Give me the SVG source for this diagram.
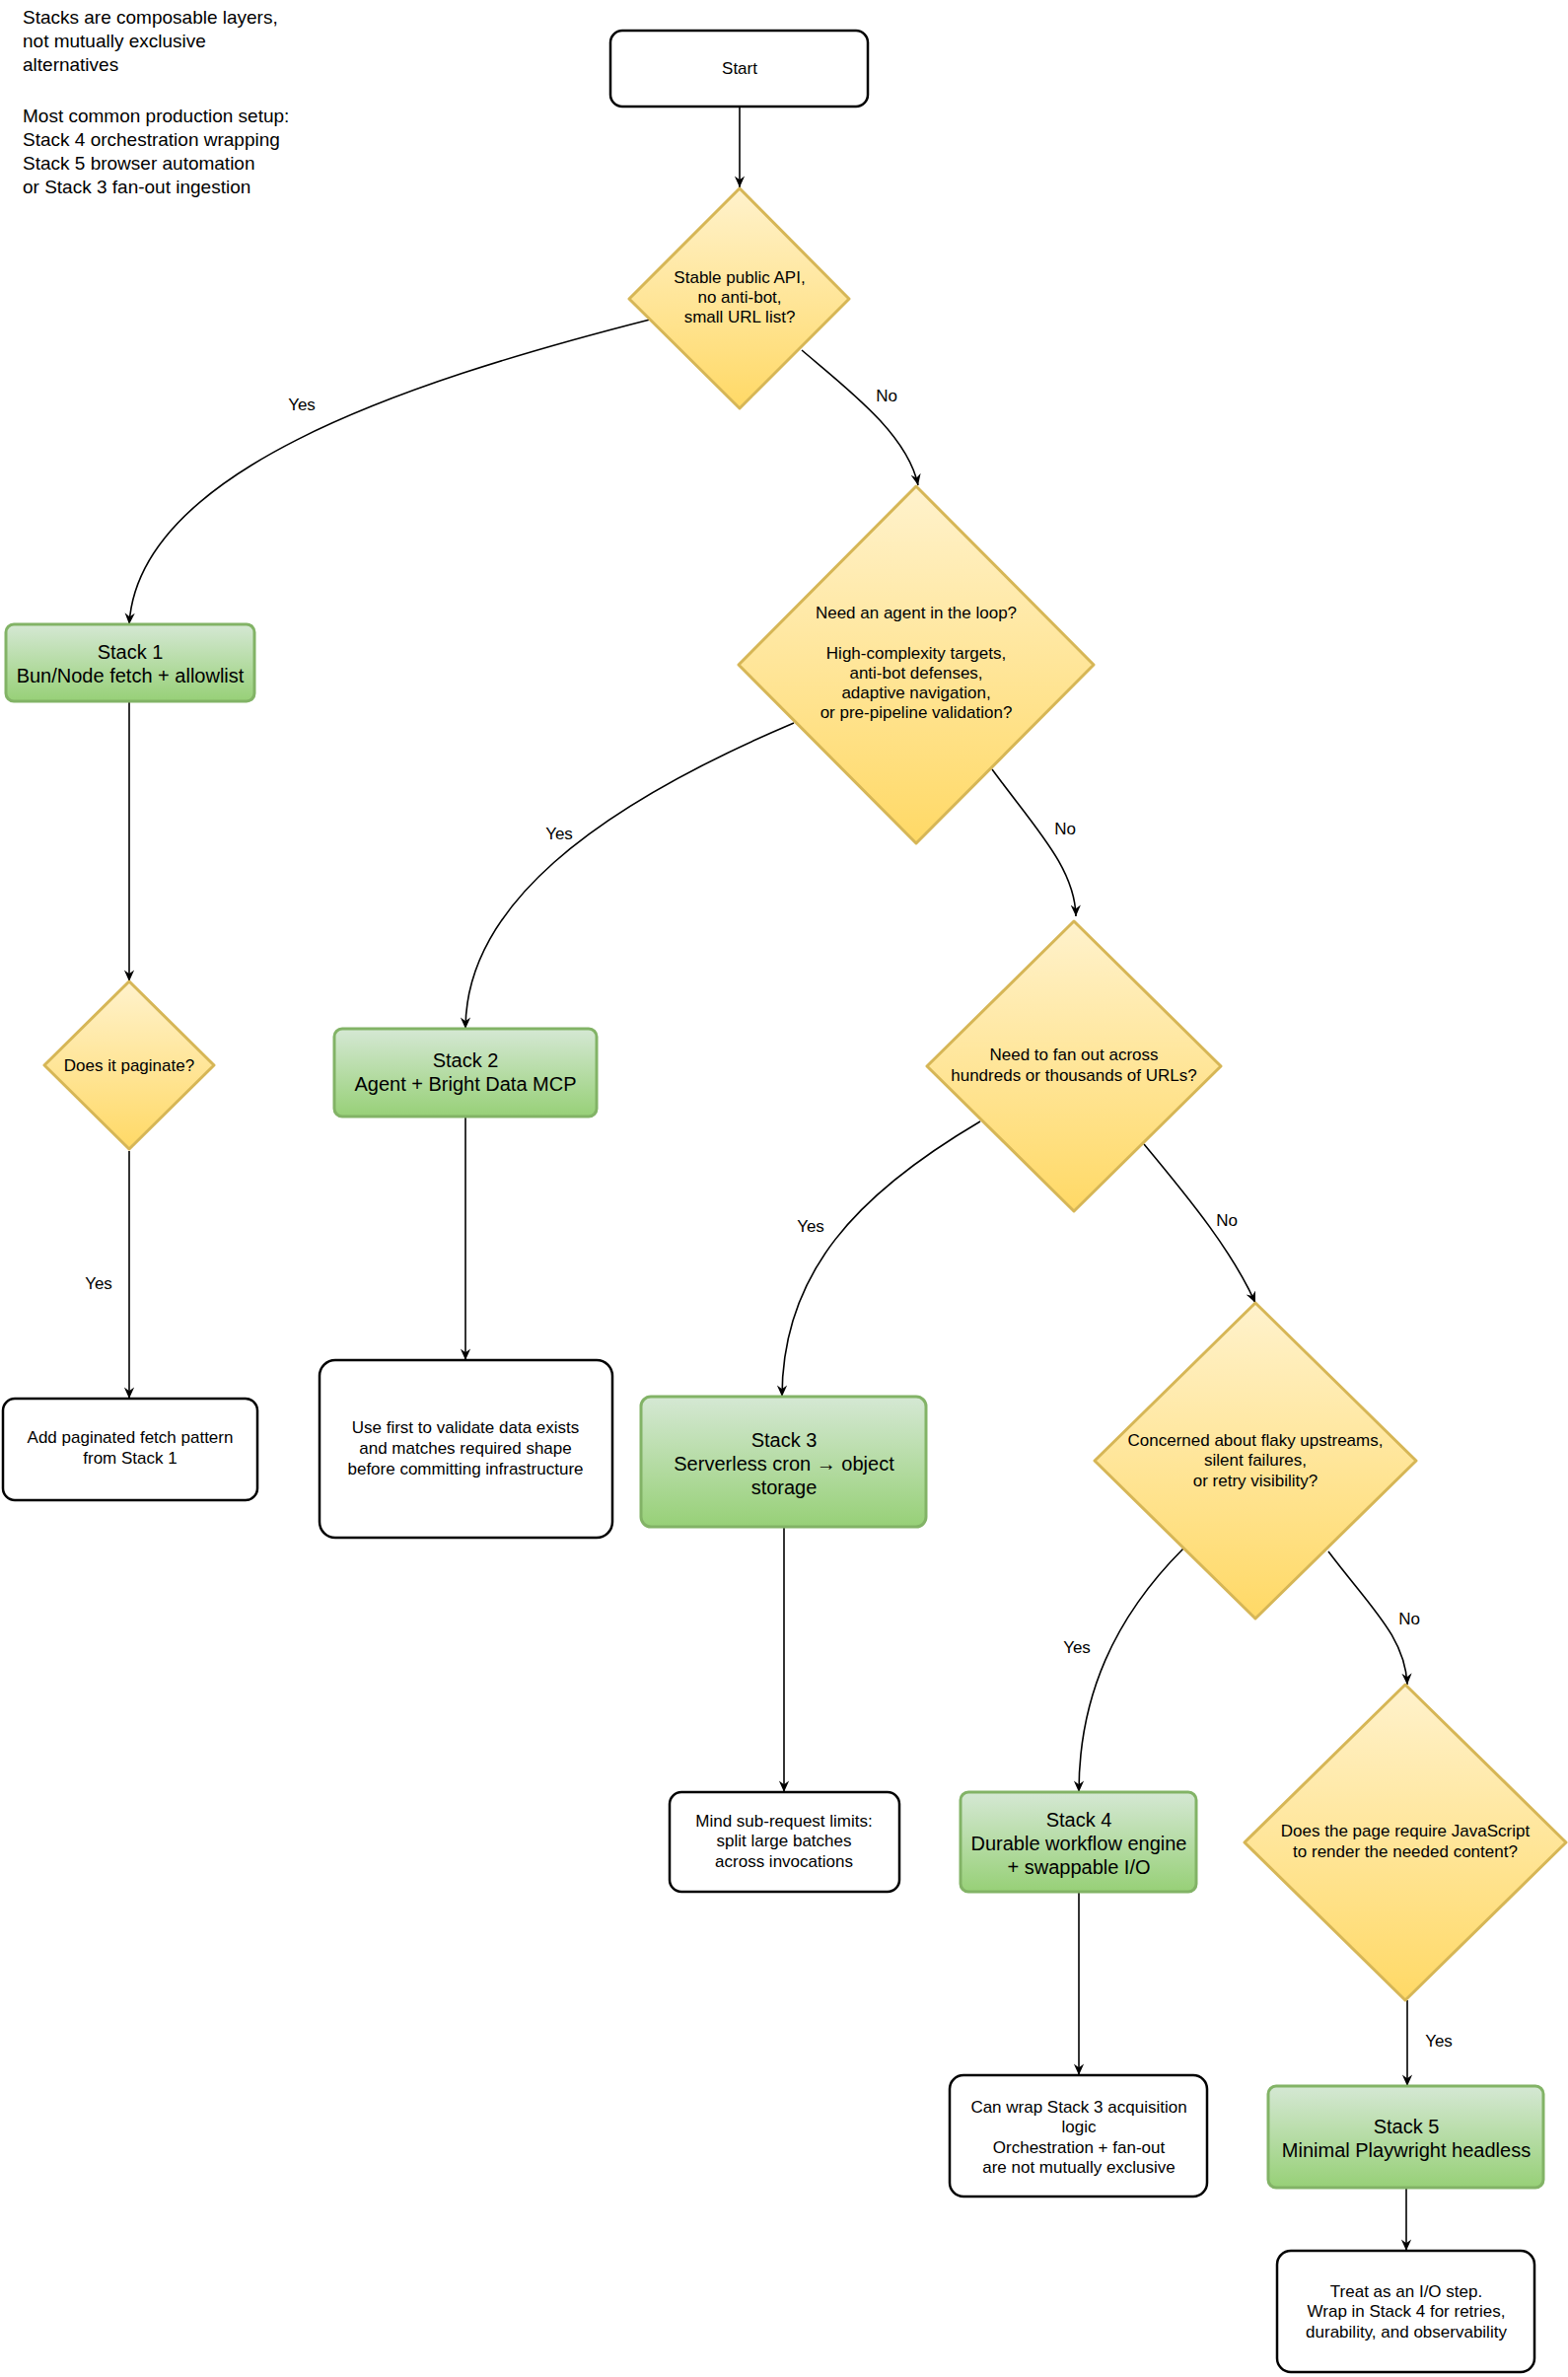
<svg xmlns="http://www.w3.org/2000/svg" width="1590" height="2410" viewBox="0 0 1590 2410">
<defs>
<linearGradient id="gy" x1="0" y1="0" x2="0" y2="1"><stop offset="0" stop-color="#fff2cc"/><stop offset="1" stop-color="#ffd966"/></linearGradient>
<linearGradient id="gg" x1="0" y1="0" x2="0" y2="1"><stop offset="0" stop-color="#d5e8d4"/><stop offset="1" stop-color="#97d077"/></linearGradient>
<marker id="ar" viewBox="0 0 10 10" refX="9" refY="5" markerWidth="8" markerHeight="8" orient="auto"><path d="M0,1 L9,5 L0,9 L3,5 Z" fill="#000"/></marker>
<style>
text{font-family:"Liberation Sans",Arial,sans-serif;fill:#000;text-anchor:middle}
.note{text-anchor:start;font-size:19px}
.dia{fill:url(#gy);stroke:#d6b656;stroke-width:3;stroke-linejoin:round}
.stk{fill:url(#gg);stroke:#82b366;stroke-width:3}
.box{fill:#fff;stroke:#000;stroke-width:2.5}
.t16{font-size:17px}
.t19{font-size:20px}
.edge{fill:none;stroke:#000;stroke-width:1.6;marker-end:url(#ar)}
.lbl{font-size:17px}
</style>
</defs>
<g id="note">
<text class="note" x="23" y="24">Stacks are composable layers,</text>
<text class="note" x="23" y="48">not mutually exclusive</text>
<text class="note" x="23" y="72">alternatives</text>
<text class="note" x="23" y="124">Most common production setup:</text>
<text class="note" x="23" y="148">Stack 4 orchestration wrapping</text>
<text class="note" x="23" y="172">Stack 5 browser automation</text>
<text class="note" x="23" y="196">or Stack 3 fan-out ingestion</text>
</g>
<g id="connectors">
<path class="edge" d="M750,108 L750,190"/>
<path class="edge" d="M659,324 C400,390 140,480 131,633"/>
<path class="edge" d="M813,355 C860,395 920,440 931,492"/>
<path class="edge" d="M805,733 C600,820 472,920 472,1043"/>
<path class="edge" d="M1006,780 C1050,840 1090,880 1091,929"/>
<path class="edge" d="M131,711 L131,995"/>
<path class="edge" d="M131,1167 L131,1418"/>
<path class="edge" d="M472,1132 L472,1379"/>
<path class="edge" d="M994,1137 C870,1210 793,1290 793,1416"/>
<path class="edge" d="M1160,1160 C1210,1220 1250,1270 1273,1321"/>
<path class="edge" d="M795,1548 L795,1817"/>
<path class="edge" d="M1200,1570 C1130,1640 1094,1720 1094,1817"/>
<path class="edge" d="M1347,1573 C1390,1630 1425,1660 1427,1708"/>
<path class="edge" d="M1094,1918 L1094,2104"/>
<path class="edge" d="M1427,2028 L1427,2115"/>
<path class="edge" d="M1426,2218 L1426,2282"/>
<text class="lbl" x="306" y="416">Yes</text>
<text class="lbl" x="899" y="407">No</text>
<text class="lbl" x="567" y="851">Yes</text>
<text class="lbl" x="1080" y="846">No</text>
<text class="lbl" x="100" y="1307">Yes</text>
<text class="lbl" x="822" y="1249">Yes</text>
<text class="lbl" x="1244" y="1243">No</text>
<text class="lbl" x="1092" y="1676">Yes</text>
<text class="lbl" x="1429" y="1647">No</text>
<text class="lbl" x="1459" y="2075">Yes</text>
</g>
<g id="start"><rect class="box" x="619" y="31" width="261" height="77" rx="12"/><text class="t16" x="750" y="75">Start</text></g>
<g id="d1"><path class="dia" d="M750,191 L861,303 L750,414 L638,303 Z"/>
<text class="t16" x="750" y="287">Stable public API,</text><text class="t16" x="750" y="307">no anti-bot,</text><text class="t16" x="750" y="327">small URL list?</text></g>
<g id="d2"><path class="dia" d="M929,493 L1109,674 L929,855 L749,674 Z"/>
<text class="t16" x="929" y="627">Need an agent in the loop?</text>
<text class="t16" x="929" y="668">High-complexity targets,</text><text class="t16" x="929" y="688">anti-bot defenses,</text><text class="t16" x="929" y="708">adaptive navigation,</text><text class="t16" x="929" y="728">or pre-pipeline validation?</text></g>
<g id="stack1"><rect class="stk" x="6" y="633" width="252" height="78" rx="8"/><text class="t19" x="132" y="668">Stack 1</text><text class="t19" x="132" y="692">Bun/Node fetch + allowlist</text></g>
<g id="d3"><path class="dia" d="M131,995 L217,1080 L131,1165 L45,1080 Z"/><text class="t16" x="131" y="1086">Does it paginate?</text></g>
<g id="paginate"><rect class="box" x="3" y="1418" width="258" height="103" rx="12"/><text class="t16" x="132" y="1463">Add paginated fetch pattern</text><text class="t16" x="132" y="1484">from Stack 1</text></g>
<g id="stack2"><rect class="stk" x="339" y="1043" width="266" height="89" rx="8"/><text class="t19" x="472" y="1082">Stack 2</text><text class="t19" x="472" y="1106">Agent + Bright Data MCP</text></g>
<g id="usefirst"><rect class="box" x="324" y="1379" width="297" height="180" rx="16"/><text class="t16" x="472" y="1453">Use first to validate data exists</text><text class="t16" x="472" y="1474">and matches required shape</text><text class="t16" x="472" y="1495">before committing infrastructure</text></g>
<g id="d4"><path class="dia" d="M1089,934 L1238,1081 L1089,1228 L940,1081 Z"/><text class="t16" x="1089" y="1075">Need to fan out across</text><text class="t16" x="1089" y="1096">hundreds or thousands of URLs?</text></g>
<g id="stack3"><rect class="stk" x="650" y="1416" width="289" height="132" rx="10"/><text class="t19" x="795" y="1467">Stack 3</text><text class="t19" x="795" y="1491">Serverless cron → object</text><text class="t19" x="795" y="1515">storage</text></g>
<g id="mind"><rect class="box" x="679" y="1817" width="233" height="101" rx="12"/><text class="t16" x="795" y="1852">Mind sub-request limits:</text><text class="t16" x="795" y="1872">split large batches</text><text class="t16" x="795" y="1893">across invocations</text></g>
<g id="d5"><path class="dia" d="M1273,1321 L1436,1481 L1273,1641 L1110,1481 Z"/><text class="t16" x="1273" y="1466">Concerned about flaky upstreams,</text><text class="t16" x="1273" y="1486">silent failures,</text><text class="t16" x="1273" y="1507">or retry visibility?</text></g>
<g id="stack4"><rect class="stk" x="974" y="1817" width="239" height="101" rx="8"/><text class="t19" x="1094" y="1852">Stack 4</text><text class="t19" x="1094" y="1876">Durable workflow engine</text><text class="t19" x="1094" y="1900">+ swappable I/O</text></g>
<g id="canwrap"><rect class="box" x="963" y="2104" width="261" height="123" rx="14"/><text class="t16" x="1094" y="2142">Can wrap Stack 3 acquisition</text><text class="t16" x="1094" y="2162">logic</text><text class="t16" x="1094" y="2183">Orchestration + fan-out</text><text class="t16" x="1094" y="2203">are not mutually exclusive</text></g>
<g id="d6"><path class="dia" d="M1425,1708 L1588,1868 L1425,2028 L1262,1868 Z"/><text class="t16" x="1425" y="1862">Does the page require JavaScript</text><text class="t16" x="1425" y="1883">to render the needed content?</text></g>
<g id="stack5"><rect class="stk" x="1286" y="2115" width="279" height="103" rx="8"/><text class="t19" x="1426" y="2163">Stack 5</text><text class="t19" x="1426" y="2187">Minimal Playwright headless</text></g>
<g id="treat"><rect class="box" x="1295" y="2282" width="261" height="123" rx="14"/><text class="t16" x="1426" y="2329">Treat as an I/O step.</text><text class="t16" x="1426" y="2349">Wrap in Stack 4 for retries,</text><text class="t16" x="1426" y="2370">durability, and observability</text></g>
</svg>
